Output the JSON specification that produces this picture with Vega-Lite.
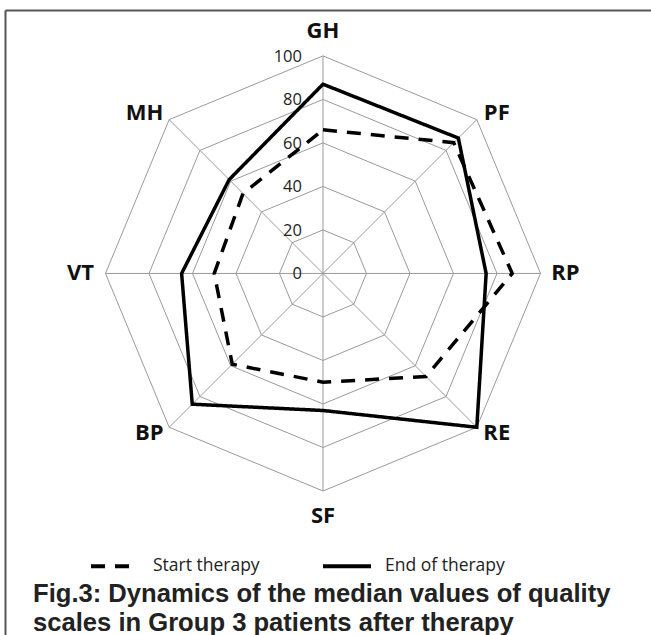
{
  "$schema": "https://vega.github.io/schema/vega-lite/v6.json",
  "width": 646,
  "height": 625,
  "autosize": {"type": "none"},
  "padding": {"left": 5, "top": 10, "right": 0, "bottom": 0},
  "background": "white",
  "config": {"view": {"stroke": null}},
  "title": {
    "text": ["Fig.3: Dynamics of the median values of quality", "scales in Group 3 patients after therapy"],
    "orient": "bottom",
    "anchor": "start",
    "frame": "group",
    "offset": -53,
    "dx": 28,
    "font": "Liberation Sans",
    "fontSize": 25.6,
    "fontWeight": "bold",
    "color": "#222222",
    "lineHeight": 29
  },
  "datasets": {
    "scores": [
      {"axis": "GH", "series": "Start therapy", "value": 66},
      {"axis": "PF", "series": "Start therapy", "value": 85},
      {"axis": "RP", "series": "Start therapy", "value": 87},
      {"axis": "RE", "series": "Start therapy", "value": 67},
      {"axis": "SF", "series": "Start therapy", "value": 50},
      {"axis": "BP", "series": "Start therapy", "value": 59},
      {"axis": "VT", "series": "Start therapy", "value": 50},
      {"axis": "MH", "series": "Start therapy", "value": 52},
      {"axis": "GH", "series": "End of therapy", "value": 87},
      {"axis": "PF", "series": "End of therapy", "value": 88},
      {"axis": "RP", "series": "End of therapy", "value": 75},
      {"axis": "RE", "series": "End of therapy", "value": 100},
      {"axis": "SF", "series": "End of therapy", "value": 63},
      {"axis": "BP", "series": "End of therapy", "value": 85},
      {"axis": "VT", "series": "End of therapy", "value": 65},
      {"axis": "MH", "series": "End of therapy", "value": 61}
    ],
    "axes": [
      {"axis": "GH"}, {"axis": "PF"}, {"axis": "RP"}, {"axis": "RE"},
      {"axis": "SF"}, {"axis": "BP"}, {"axis": "VT"}, {"axis": "MH"}
    ],
    "rings": [
      {"level": [20, 40, 60, 80, 100], "axis": ["GH", "PF", "RP", "RE", "SF", "BP", "VT", "MH"]}
    ],
    "ticks": [
      {"level": 0}, {"level": 20}, {"level": 40}, {"level": 60}, {"level": 80}, {"level": 100}
    ]
  },
  "layer": [
    {
      "data": {"name": "rings"},
      "transform": [
        {"flatten": ["level"]},
        {"flatten": ["axis"]},
        {"calculate": "indexof(['GH','PF','RP','RE','SF','BP','VT','MH'], datum.axis)", "as": "idx"},
        {"calculate": "datum.level * sin(datum.idx * PI / 4)", "as": "px"},
        {"calculate": "datum.level * cos(datum.idx * PI / 4)", "as": "py"}
      ],
      "mark": {"type": "line", "interpolate": "linear-closed", "stroke": "#9a9a9a", "strokeWidth": 1},
      "encoding": {
        "x": {"field": "px", "type": "quantitative", "scale": {"domain": [-146.2, 150.8], "nice": false, "zero": false}, "axis": {"orient": "top", "labels": false, "ticks": false, "grid": false, "title": null, "domainColor": "#555555", "domainWidth": 2}},
        "y": {"field": "py", "type": "quantitative", "scale": {"domain": [-166.2, 121.1], "nice": false, "zero": false}, "axis": {"orient": "left", "labels": false, "ticks": false, "grid": false, "title": null, "domainColor": "#555555", "domainWidth": 2}},
        "detail": {"field": "level", "type": "nominal"},
        "order": {"field": "idx", "type": "quantitative"}
      }
    },
    {
      "data": {"name": "axes"},
      "transform": [
        {"calculate": "indexof(['GH','PF','RP','RE','SF','BP','VT','MH'], datum.axis)", "as": "idx"},
        {"calculate": "0", "as": "ox"},
        {"calculate": "100 * sin(datum.idx * PI / 4)", "as": "px"},
        {"calculate": "100 * cos(datum.idx * PI / 4)", "as": "py"}
      ],
      "mark": {"type": "rule", "stroke": "#9a9a9a", "strokeWidth": 1},
      "encoding": {
        "x": {"field": "ox", "type": "quantitative"},
        "y": {"field": "ox", "type": "quantitative"},
        "x2": {"field": "px"},
        "y2": {"field": "py"}
      }
    },
    {
      "data": {"name": "ticks"},
      "transform": [
        {"calculate": "0", "as": "ox"}
      ],
      "mark": {"type": "text", "align": "right", "baseline": "middle", "dx": -21, "dy": 1, "font": "Open Sans", "fontSize": 16.5, "color": "#222222"},
      "encoding": {
        "x": {"field": "ox", "type": "quantitative"},
        "y": {"field": "level", "type": "quantitative"},
        "text": {"field": "level", "type": "quantitative"}
      }
    },
    {
      "data": {"name": "scores"},
      "transform": [
        {"calculate": "indexof(['GH','PF','RP','RE','SF','BP','VT','MH'], datum.axis)", "as": "idx"},
        {"calculate": "datum.value * sin(datum.idx * PI / 4)", "as": "px"},
        {"calculate": "datum.value * cos(datum.idx * PI / 4)", "as": "py"}
      ],
      "mark": {"type": "line", "interpolate": "linear-closed", "stroke": "black", "strokeWidth": 3.5},
      "encoding": {
        "x": {"field": "px", "type": "quantitative"},
        "y": {"field": "py", "type": "quantitative"},
        "order": {"field": "idx", "type": "quantitative"},
        "strokeDash": {
          "field": "series",
          "type": "nominal",
          "scale": {"domain": ["Start therapy", "End of therapy"], "range": [[14, 10], [1, 0]]},
          "legend": {
            "orient": "none",
            "legendX": 84,
            "legendY": 530,
            "direction": "horizontal",
            "title": null,
            "symbolType": "stroke",
            "symbolSize": 2304,
            "symbolStrokeWidth": 4,
            "symbolStrokeColor": "black",
            "labelFont": "Open Sans",
            "labelFontSize": 17.5,
            "labelColor": "#222222",
            "labelOffset": 12,
            "labelLimit": 300,
            "columnPadding": 55
          }
        }
      }
    },
    {
      "data": {"name": "axes"},
      "transform": [
        {"calculate": "indexof(['GH','PF','RP','RE','SF','BP','VT','MH'], datum.axis)", "as": "idx"},
        {"calculate": "abs(abs(sin(datum.idx * PI / 4)) - abs(cos(datum.idx * PI / 4))) < 0.1", "as": "diag"},
        {"calculate": "sin(datum.idx * PI / 4) * (datum.diag ? (datum.axis == 'MH' ? 116 : 113) : 111.5)", "as": "lx"},
        {"calculate": "cos(datum.idx * PI / 4) * (datum.diag ? 104 : 111.5)", "as": "ly"}
      ],
      "mark": {"type": "text", "align": "center", "baseline": "middle", "font": "Open Sans", "fontWeight": "bold", "fontSize": 22, "color": "#111111"},
      "encoding": {
        "x": {"field": "lx", "type": "quantitative"},
        "y": {"field": "ly", "type": "quantitative"},
        "text": {"field": "axis", "type": "nominal"}
      }
    }
  ]
}
